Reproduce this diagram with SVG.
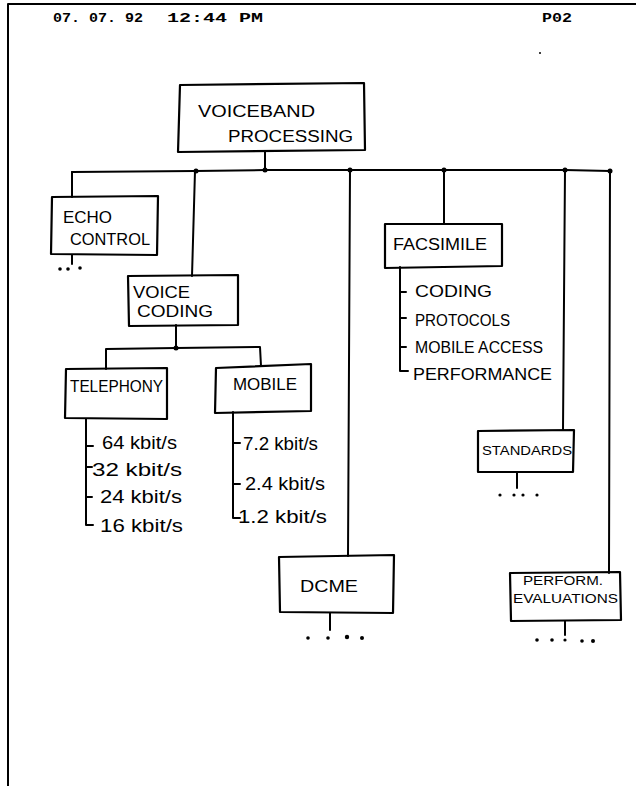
<svg xmlns="http://www.w3.org/2000/svg" width="636" height="786" viewBox="0 0 636 786">
<style>
.bg{fill:#fff}
.box{fill:none;stroke:#000;stroke-width:2.2;stroke-linejoin:round}
.ln{fill:none;stroke:#000;stroke-width:2;stroke-linecap:round;stroke-linejoin:round}
.dot{fill:#000}
.hd{font-family:"Liberation Mono",monospace;font-weight:bold;font-size:13px;fill:#000}
.lb{font-family:"Liberation Sans",Arial,sans-serif;font-size:16px;fill:#000}
.sm{font-family:"Liberation Sans",Arial,sans-serif;font-size:12px;fill:#000}
.kb{font-family:"Liberation Sans",Arial,sans-serif;font-size:18px;fill:#000}
</style>
<rect class="bg" x="0" y="0" width="636" height="786"/>
<g id="header">
<path class="ln" d="M8,4 L636,4 M8,4 L8,786" stroke-width="1.8"/>
<text class="hd" x="53" y="22" textLength="90" lengthAdjust="spacingAndGlyphs">07. 07. 92</text>
<text class="hd" x="167" y="22" textLength="96" lengthAdjust="spacingAndGlyphs">12:44 PM</text>
<text class="hd" x="542" y="22" textLength="30" lengthAdjust="spacingAndGlyphs">P02</text>
<circle class="dot" cx="540" cy="53" r="1"/>
</g>
<g id="connectors">
<path class="ln" d="M265,151 L265,170"/>
<path class="ln" d="M72,172 L195,171 L265,170 L350,170 L444,170 L565,170 L610,171"/>
<path class="ln" d="M72,172 L72,197"/>
<path class="ln" d="M195,171 L192,276"/>
<path class="ln" d="M350,170 L348,556"/>
<path class="ln" d="M444,170 L444,224"/>
<path class="ln" d="M565,170 L563,430"/>
<path class="ln" d="M610,171 L609,573"/>
<path class="ln" d="M176,325 L176,348"/>
<path class="ln" d="M106,369 L106,349 L176,348 L260,347 L261,366"/>
<path class="ln" d="M86,419 L86,525 L93,525 M86,446 L93,446 M86,467 L92,467 M86,497 L92,497"/>
<path class="ln" d="M233,412 L233,518 L240,518 M233,443 L240,443 M233,484 L240,484"/>
<path class="ln" d="M400,267 L400,371 L408,371 M400,292 L406,292 M400,318 L406,318 M400,347 L406,347"/>
<path class="ln" d="M72,255 L72,264"/>
<path class="ln" d="M330,613 L330,630"/>
<path class="ln" d="M517,472 L517,488"/>
<path class="ln" d="M565,621 L565,635"/>
<circle class="dot" cx="196" cy="171" r="2.5"/>
<circle class="dot" cx="265" cy="170" r="2.5"/>
<circle class="dot" cx="350" cy="170" r="2.5"/>
<circle class="dot" cx="444" cy="170" r="2.5"/>
<circle class="dot" cx="565" cy="170" r="2.5"/>
<circle class="dot" cx="610" cy="171" r="2.5"/>
<circle class="dot" cx="176" cy="348" r="2.5"/>
</g>
<g id="voiceband">
<path class="box" d="M180,85 L364,83 L365,150 L178,152 Z"/>
<text class="lb" x="198" y="117" font-size="19" textLength="117" lengthAdjust="spacingAndGlyphs">VOICEBAND</text>
<text class="lb" x="228" y="142" textLength="125" lengthAdjust="spacingAndGlyphs">PROCESSING</text>
</g>
<g id="echo">
<path class="box" d="M52,197 L158,196 L157,255 L51,254 Z"/>
<text class="lb" x="63" y="223" font-size="18" textLength="49" lengthAdjust="spacingAndGlyphs">ECHO</text>
<text class="lb" x="70" y="245" textLength="80" lengthAdjust="spacingAndGlyphs">CONTROL</text>
<circle class="dot" cx="60" cy="269" r="1.8"/>
<circle class="dot" cx="68" cy="269" r="1.8"/>
<circle class="dot" cx="80" cy="268" r="1.8"/>
</g>
<g id="voicecoding">
<path class="box" d="M128,276 L238,275 L238,325 L129,326 Z"/>
<text class="lb" x="133" y="298" font-size="18" textLength="57" lengthAdjust="spacingAndGlyphs">VOICE</text>
<text class="lb" x="137" y="317" textLength="76" lengthAdjust="spacingAndGlyphs">CODING</text>
</g>
<g id="telephony">
<path class="box" d="M66,369 L167,368 L167,419 L65,418 Z"/>
<text class="lb" x="70" y="392" textLength="93" lengthAdjust="spacingAndGlyphs">TELEPHONY</text>
<text class="kb" x="102" y="449" textLength="75" lengthAdjust="spacingAndGlyphs">64 kbit/s</text>
<text class="kb" x="92" y="476" textLength="90" lengthAdjust="spacingAndGlyphs">32 kbit/s</text>
<text class="kb" x="100" y="503" textLength="82" lengthAdjust="spacingAndGlyphs">24 kbit/s</text>
<text class="kb" x="100" y="532" textLength="83" lengthAdjust="spacingAndGlyphs">16 kbit/s</text>
</g>
<g id="mobile">
<path class="box" d="M216,368 L311,364 L311,411 L215,413 Z"/>
<text class="lb" x="233" y="390" textLength="64" lengthAdjust="spacingAndGlyphs">MOBILE</text>
<text class="kb" x="243" y="450" textLength="75" lengthAdjust="spacingAndGlyphs">7.2 kbit/s</text>
<text class="kb" x="245" y="490" textLength="80" lengthAdjust="spacingAndGlyphs">2.4 kbit/s</text>
<text class="kb" x="238" y="523" textLength="89" lengthAdjust="spacingAndGlyphs">1.2 kbit/s</text>
</g>
<g id="facsimile">
<path class="box" d="M385,224 L502,224 L502,266 L385,268 Z"/>
<text class="lb" x="393" y="250" textLength="94" lengthAdjust="spacingAndGlyphs">FACSIMILE</text>
<text class="lb" x="415" y="297" font-size="17" textLength="77" lengthAdjust="spacingAndGlyphs">CODING</text>
<text class="lb" x="415" y="326" font-size="17" textLength="95" lengthAdjust="spacingAndGlyphs">PROTOCOLS</text>
<text class="lb" x="415" y="353" textLength="128" lengthAdjust="spacingAndGlyphs">MOBILE ACCESS</text>
<text class="lb" x="413" y="380" font-size="17" textLength="139" lengthAdjust="spacingAndGlyphs">PERFORMANCE</text>
</g>
<g id="dcme">
<path class="box" d="M279,557 L394,555 L393,613 L280,612 Z"/>
<text class="lb" x="300" y="592" font-size="20" textLength="58" lengthAdjust="spacingAndGlyphs">DCME</text>
<circle class="dot" cx="308" cy="638" r="1.8"/>
<circle class="dot" cx="328" cy="638" r="1.8"/>
<circle class="dot" cx="347" cy="637" r="2.2"/>
<circle class="dot" cx="362" cy="638" r="2"/>
</g>
<g id="standards">
<path class="box" d="M478,431 L574,430 L573,472 L478,472 Z"/>
<text class="sm" x="482" y="455" font-size="14" textLength="90" lengthAdjust="spacingAndGlyphs">STANDARDS</text>
<circle class="dot" cx="500" cy="495" r="1.6"/>
<circle class="dot" cx="514" cy="495" r="1.6"/>
<circle class="dot" cx="523" cy="495" r="1.6"/>
<circle class="dot" cx="537" cy="495" r="1.6"/>
</g>
<g id="performeval">
<path class="box" d="M510,573 L620,572 L621,620 L511,621 Z"/>
<text class="sm" x="523" y="585" textLength="80" lengthAdjust="spacingAndGlyphs">PERFORM.</text>
<text class="sm" x="513" y="603" font-size="14" textLength="105" lengthAdjust="spacingAndGlyphs">EVALUATIONS</text>
<circle class="dot" cx="537" cy="640" r="1.8"/>
<circle class="dot" cx="552" cy="640" r="1.8"/>
<circle class="dot" cx="565" cy="640" r="1.6"/>
<circle class="dot" cx="582" cy="641" r="1.8"/>
<circle class="dot" cx="593" cy="641" r="2"/>
</g>
</svg>
